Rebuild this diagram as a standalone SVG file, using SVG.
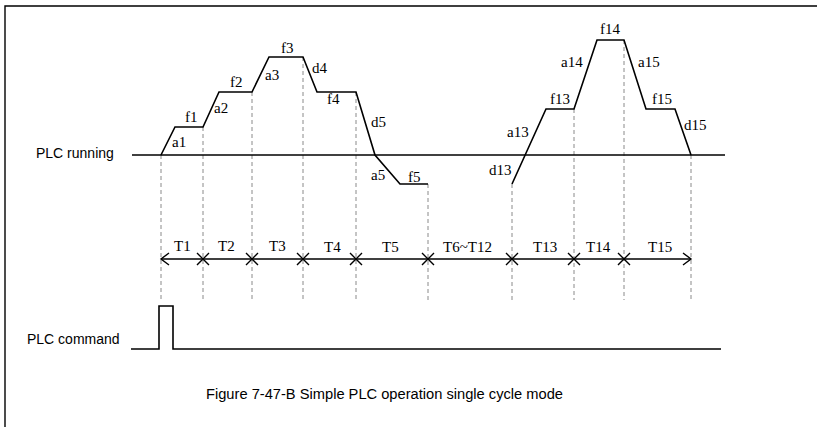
<svg xmlns="http://www.w3.org/2000/svg" width="817" height="427" viewBox="0 0 817 427">
<style>
.s{font-family:"Liberation Serif","Times New Roman",serif;font-size:15px;fill:#000}
.a{font-family:"Liberation Sans",Arial,sans-serif;font-size:14px;fill:#000}
.w{fill:none;stroke:#000;stroke-width:1.6;stroke-linejoin:miter}
.b{fill:none;stroke:#000;stroke-width:1.4}
.d{fill:none;stroke:#8a8a8a;stroke-width:1;stroke-dasharray:4 3}
.x{fill:none;stroke:#000;stroke-width:1.4}
</style>
<rect width="817" height="427" fill="#fff"/>
<g id="frame"><path class="b" d="M5,427 L5,6 L817,6"/></g>
<g id="guides">
<line class="d" x1="161" y1="155" x2="161" y2="300"/>
<line class="d" x1="203" y1="127" x2="203" y2="300"/>
<line class="d" x1="252" y1="92" x2="252" y2="300"/>
<line class="d" x1="303" y1="57" x2="303" y2="300"/>
<line class="d" x1="356" y1="92" x2="356" y2="300"/>
<line class="d" x1="428" y1="184" x2="428" y2="300"/>
<line class="d" x1="512" y1="184" x2="512" y2="300"/>
<line class="d" x1="574" y1="109" x2="574" y2="300"/>
<line class="d" x1="624" y1="40" x2="624" y2="300"/>
<line class="d" x1="691" y1="155" x2="691" y2="300"/>
</g>
<g id="plc-running">
<text class="a" x="36" y="158">PLC running</text>
<line class="b" x1="132" y1="155" x2="725" y2="155"/>
<path class="w" d="M161,155 L175,127 L203,127 L219,92 L252,92 L269,57 L303,57 L317,92 L356,92 L375,155 L400,184 L428,184"/>
<path class="w" d="M512,184 L546,109 L574,109 L597,40 L624,40 L646,109 L675,109 L691,155"/>
<text class="s" x="172" y="147">a1</text>
<text class="s" x="185" y="122">f1</text>
<text class="s" x="214" y="113">a2</text>
<text class="s" x="230" y="87">f2</text>
<text class="s" x="265" y="80">a3</text>
<text class="s" x="281" y="53">f3</text>
<text class="s" x="312" y="73">d4</text>
<text class="s" x="327" y="104">f4</text>
<text class="s" x="371" y="127">d5</text>
<text class="s" x="371" y="180">a5</text>
<text class="s" x="408" y="182">f5</text>
<text class="s" x="489" y="175">d13</text>
<text class="s" x="507" y="137">a13</text>
<text class="s" x="550" y="104">f13</text>
<text class="s" x="561" y="67">a14</text>
<text class="s" x="600" y="34">f14</text>
<text class="s" x="638" y="67">a15</text>
<text class="s" x="652" y="104">f15</text>
<text class="s" x="684" y="130">d15</text>
</g>
<g id="timeline">
<line class="b" x1="161" y1="259" x2="691" y2="259"/>
<path class="x" d="M169,253 L161,259 L169,265"/>
<path class="x" d="M683,253 L691,259 L683,265"/>
<path class="x" d="M197,253 L209,265 M209,253 L197,265"/>
<path class="x" d="M246,253 L258,265 M258,253 L246,265"/>
<path class="x" d="M297,253 L309,265 M309,253 L297,265"/>
<path class="x" d="M350,253 L362,265 M362,253 L350,265"/>
<path class="x" d="M422,253 L434,265 M434,253 L422,265"/>
<path class="x" d="M506,253 L518,265 M518,253 L506,265"/>
<path class="x" d="M568,253 L580,265 M580,253 L568,265"/>
<path class="x" d="M618,253 L630,265 M630,253 L618,265"/>
<text class="s" x="174" y="251">T1</text>
<text class="s" x="218" y="251">T2</text>
<text class="s" x="269" y="251">T3</text>
<text class="s" x="324" y="252">T4</text>
<text class="s" x="382" y="252">T5</text>
<text class="s" x="443" y="252">T6~T12</text>
<text class="s" x="533" y="252">T13</text>
<text class="s" x="586" y="252">T14</text>
<text class="s" x="648" y="252">T15</text>
</g>
<g id="plc-command">
<text class="a" x="27" y="344">PLC command</text>
<path class="w" d="M131,349 L159,349 L159,306 L173,306 L173,349 L721,349"/>
</g>
<g id="caption">
<text class="a" x="206" y="399" font-size="13" textLength="357" lengthAdjust="spacingAndGlyphs">Figure 7-47-B Simple PLC operation single cycle mode</text>
</g>
</svg>
